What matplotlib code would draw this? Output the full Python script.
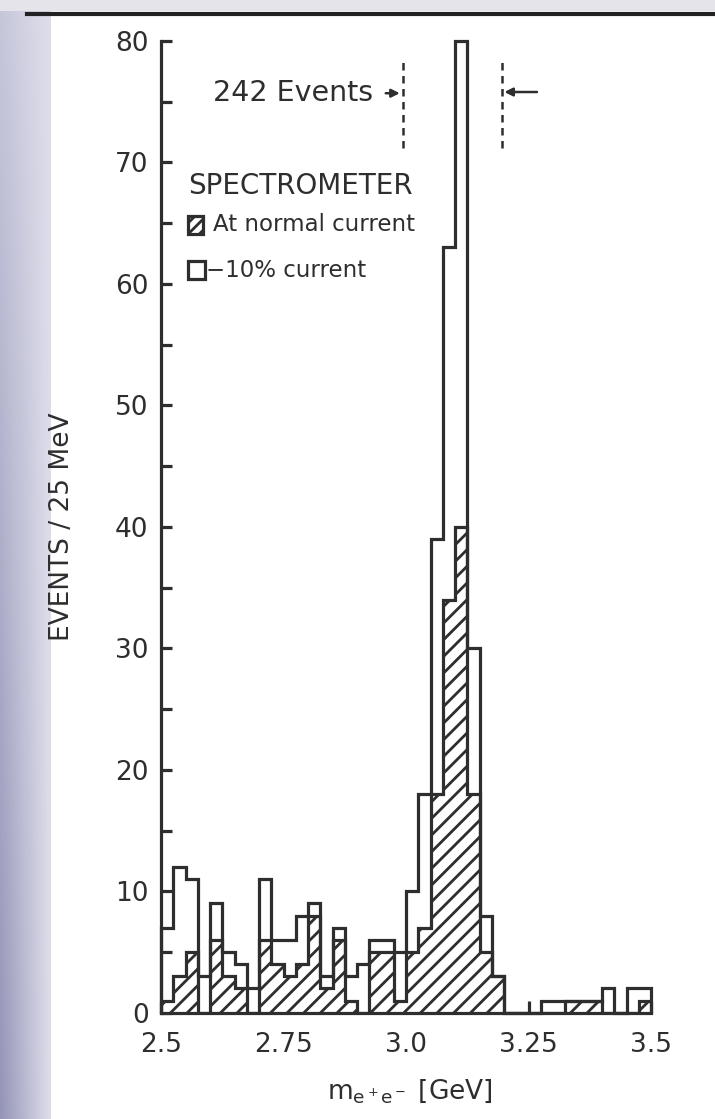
import matplotlib
matplotlib.use("Agg")
import matplotlib.pyplot as plt
import numpy as np
from matplotlib.patches import Rectangle

# 25 MeV bins from 2.5 to 3.5 GeV
bin_lo, bin_hi, n_bins = 2.5, 3.5, 40

# -10% current (open histogram)
open_counts = [7, 12, 11, 3, 9, 5, 4, 2, 11, 6,
               6, 8, 9, 3, 7, 3, 4, 6, 6, 5,
               10, 18, 39, 63, 80, 30, 8, 3, 0, 0,
               0, 1, 1, 1, 1, 1, 2, 0, 2, 2]
# normal current (hatched histogram)
normal_counts = [1, 3, 5, 0, 6, 3, 2, 0, 6, 4,
                 3, 4, 8, 2, 6, 1, 0, 5, 5, 1,
                 5, 7, 18, 34, 40, 18, 5, 3, 0, 0,
                 0, 0, 0, 1, 1, 1, 0, 0, 0, 1]

x_ticks = [2.5, 2.75, 3.0, 3.25, 3.5]
x_tick_labels = ["2.5", "2.75", "3.0", "3.25", "3.5"]
y_ticks = [0, 10, 20, 30, 40, 50, 60, 70, 80]

window = [2.993, 3.195]
window_label = "242 Events"
title_text = "SPECTROMETER"
legend_labels = ["At normal current", "\u221210% current"]

INK = "#2e2e2e"
LW = 2.3

plt.rcParams["font.family"] = ["DejaVu Sans"]
plt.rcParams["hatch.linewidth"] = 2.0
plt.rcParams["hatch.color"] = INK

W, H = 715, 1119
fig = plt.figure(figsize=(W / 100, H / 100), dpi=100, facecolor="white")

# slide background strip on the left and top
bg = fig.add_axes([0, 0, 50 / W, 1])
gx = np.linspace(0, 1, 60)[None, :]
gy = np.linspace(0, 1, 200)[:, None]
left_c = np.array([0.58, 0.58, 0.72]) * (1 - gy[..., None]) + np.array([0.78, 0.78, 0.86]) * gy[..., None]
right_c = np.array([0.87, 0.87, 0.92])
img = left_c * (1 - gx[..., None]) + right_c * gx[..., None]
bg.imshow(img, aspect="auto", origin="lower", extent=[0, 1, 0, 1])
bg.axis("off")
top = fig.add_axes([0, 1 - 11 / H, 1, 11 / H])
top.set_facecolor("#e4e4ea")
top.set_xticks([]); top.set_yticks([])
for s in top.spines.values():
    s.set_visible(False)
fig.add_artist(plt.Line2D([27 / W, 1], [1 - 13.5 / H, 1 - 13.5 / H], color="#222222", lw=3))

ax = fig.add_axes([161 / W, 106.3 / H, 490 / W, 971.7 / H])
ax.set_facecolor("none")

edges = np.linspace(bin_lo, bin_hi, n_bins + 1)
ax.stairs(normal_counts, edges, fill=True, facecolor="white", edgecolor=INK,
          hatch="//", lw=LW, zorder=2)
ax.stairs(open_counts, edges, baseline=0, fill=False, color=INK, lw=LW,
          zorder=3, clip_on=False)

ax.set_xlim(bin_lo, bin_hi)
ax.set_ylim(0, 80)
for side in ["top", "right"]:
    ax.spines[side].set_visible(False)
for side in ["left", "bottom"]:
    ax.spines[side].set_linewidth(LW)
    ax.spines[side].set_color(INK)

ax.set_yticks(y_ticks)
ax.set_yticks(np.arange(5, 80, 10), minor=True)
ax.set_xticks(x_ticks)
ax.set_xticklabels(x_tick_labels)
ax.tick_params(axis="y", which="both", direction="in", length=8, width=LW,
               color=INK, labelsize=19, labelcolor=INK, pad=9)
ax.tick_params(axis="x", direction="in", length=9, width=LW, color=INK,
               labelsize=19, labelcolor=INK, pad=14)

ax.set_ylabel("EVENTS / 25 MeV", fontsize=19, color=INK)
ax.yaxis.set_label_coords(-0.176, 0.5)
ax.set_xlabel(r"$\mathregular{m_{e^+e^-}}$ [GeV]", fontsize=19, color=INK)
ax.xaxis.set_label_coords(0.508, -0.066)

# 242 events window
for xw in window:
    ax.plot([xw, xw], [71.2, 78.7], color=INK, lw=1.8, ls=(0, (3, 2.2)),
            zorder=4, clip_on=False)
ax.text(2.606, 75.7, window_label, fontsize=20.5, color=INK, ha="left", va="center")
ax.annotate("", xy=(window[0], 75.7), xytext=(2.953, 75.7),
            arrowprops=dict(arrowstyle="-|>", color=INK, lw=1.8, mutation_scale=12))
ax.annotate("", xy=(window[1], 75.8), xytext=(3.273, 75.8),
            arrowprops=dict(arrowstyle="-|>", color=INK, lw=1.8, mutation_scale=12))

# legend block
ax.text(2.555, 68.1, title_text, fontsize=20, color=INK, ha="left", va="center")
ax.add_patch(Rectangle((2.555, 64.1), 0.031, 1.5, facecolor="white", edgecolor=INK,
                       hatch="///", lw=LW))
ax.text(2.606, 64.9, legend_labels[0], fontsize=16.5, color=INK, ha="left", va="center")
ax.add_patch(Rectangle((2.555, 60.4), 0.035, 1.5, facecolor="white", edgecolor=INK, lw=LW))
ax.text(2.592, 61.1, legend_labels[1], fontsize=16.5, color=INK, ha="left", va="center")

fig.savefig("out.png", dpi=100, facecolor=fig.get_facecolor())
